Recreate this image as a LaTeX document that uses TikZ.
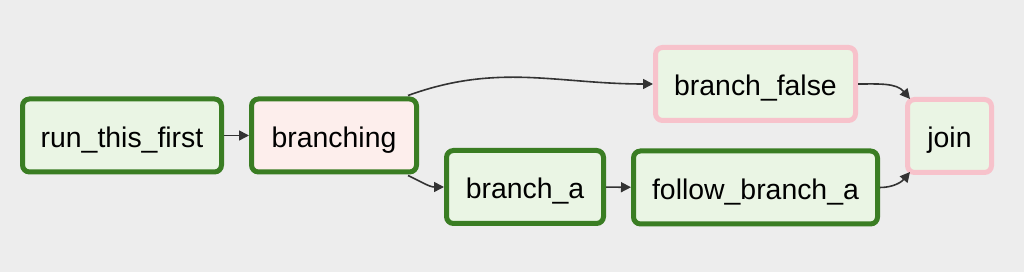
\documentclass[tikz,border=0pt]{standalone}
\usepackage{fontspec}
\setmainfont{Liberation Sans}
\usepackage{tikz}
\usetikzlibrary{arrows.meta}
\definecolor{dagbg}{RGB}{237,237,237}
\definecolor{taskgreen}{RGB}{58,125,35}
\definecolor{taskpink}{RGB}{247,194,203}
\definecolor{fillgreen}{RGB}{234,245,228}
\definecolor{fillpink}{RGB}{253,238,236}
\definecolor{edgegray}{RGB}{51,51,51}

\begin{document}
\begin{tikzpicture}[x=.5pt,y=-.5pt,
  task/.style={draw,line width=2.5pt,rounded corners=3.5pt,fill=fillgreen,
    font=\fontsize{14.2}{16}\selectfont,minimum height=36.5pt,inner sep=0pt,
    text height=12pt,text depth=0pt},
  ok/.style={draw=taskgreen},
  skipped/.style={draw=taskpink},
  edge/.style={draw=edgegray,line width=.8pt,-{Triangle[length=5pt,width=5pt]}}]
  \fill[dagbg] (0,0) rectangle (1024,272);
  \useasboundingbox (0,0) rectangle (1024,272);
  \node[task,ok,minimum width=99.5pt] (first) at (122,135.5) {run\_this\_first};
  \node[task,ok,fill=fillpink,minimum width=82.5pt] (branching) at (334,135.5) {branching};
  \node[task,skipped,minimum width=100pt] (false) at (755.5,84) {branch\_false};
  \node[task,skipped,minimum width=42pt] (join) at (949.5,136) {join};
  \node[task,ok,minimum width=78.5pt] (brancha) at (525,187) {branch\_a};
  \node[task,ok,minimum width=122pt] (follow) at (755.5,187.5) {follow\_branch\_a};
  % edges
  \draw[edge] (first) -- (branching);
  \draw[edge] ([xshift=-5.5pt,yshift=.5pt]branching.north east) to[out=20,in=180] (false.west);
  \draw[edge] ([xshift=-5.5pt,yshift=-.5pt]branching.south east) to[out=-25,in=180] (brancha.west);
  \draw[edge] (brancha) -- (follow);
  \draw[edge] (false.east) to[out=0,in=130] ([xshift=2.5pt,yshift=-1pt]join.north west);
  \draw[edge] (follow.east) to[out=0,in=230] ([xshift=2.5pt,yshift=1.5pt]join.south west);
\end{tikzpicture}
\end{document}
